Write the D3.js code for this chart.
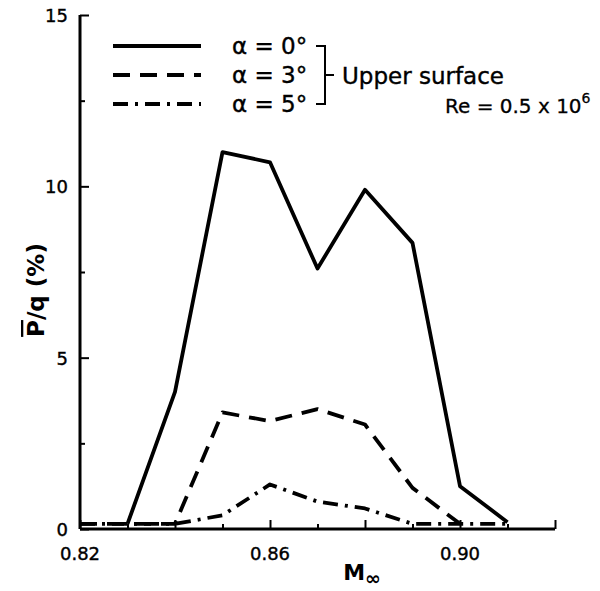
<!DOCTYPE html>
<html>
<head>
<meta charset="utf-8">
<script src="https://cdn.jsdelivr.net/npm/d3@7"></script>
<style>
  body { margin: 0; background: #fff; }
  svg text { font-family: "DejaVu Sans", sans-serif; fill: #000; }
</style>
</head>
<body>
<div id="chart"></div>
<script>
const width = 600;
const height = 591;
const margin = {top: 15, bottom: 62, left: 80, right: 45};

// Mach numbers
const mach = [0.82, 0.83, 0.84, 0.85, 0.86, 0.87, 0.88, 0.89, 0.90, 0.91];
// P/q (%), null = not drawn
const alpha0 = [null, 0.15, 4.0, 11.0, 10.7, 7.6, 9.9, 8.35, 1.25, 0.2];
const alpha3 = [0.15, 0.15, 0.15, 3.4, 3.15, 3.5, 3.05, 1.2, 0.15, null];
const alpha5 = [0.15, 0.15, 0.15, 0.4, 1.3, 0.8, 0.6, 0.15, 0.15, 0.15];
const seriesNames = ["α = 0°", "α = 3°", "α = 5°"];
const xTickLabels = [0.82, 0.86, 0.90];
const yTickLabels = [0, 5, 10, 15];

const dashes = [null, "17,10", "15,7,3,7"];

const svg = d3.select('#chart')
    .append('svg')
    .attr('width', width)
    .attr('height', height);

const x = d3.scaleLinear()
    .domain([0.82, 0.92])
    .range([margin.left, width - margin.right]);

const y = d3.scaleLinear()
    .domain([0, 15])
    .range([height - margin.bottom, margin.top]);

// axes
function xAxis(g){
    g.attr('transform', `translate(0, ${y(0)})`)
        .call(d3.axisTop(x).tickValues(d3.range(0, 11).map(i => 0.82 + i * 0.01))
            .tickSize(0).tickFormat(''));
    g.select('.domain').attr('stroke-width', 3).attr('d', `M${x(0.82)},0H${x(0.92)}`);
    g.selectAll('.tick line')
        .attr('y2', (d, i) => (i % 2 === 0 ? -9 : -5))
        .attr('stroke-width', 2);
}
function yAxis(g){
    g.attr('transform', `translate(${x(0.82)}, 0)`)
        .call(d3.axisRight(y).tickValues(d3.range(0, 15.1, 2.5)).tickSize(0).tickFormat(''));
    g.select('.domain').attr('stroke-width', 3).attr('d', `M0,${y(0)}V${y(15)}`);
    g.selectAll('.tick line')
        .attr('x2', d => (d % 5 === 0 ? 9 : 5))
        .attr('stroke-width', 2);
}
svg.append('g').call(xAxis);
svg.append('g').call(yAxis);

svg.append('g').selectAll('text')
    .data(xTickLabels)
    .enter()
    .append('text')
    .attr('x', d => x(d))
    .attr('y', y(0) + 31)
    .attr('text-anchor', 'middle')
    .attr('font-size', 18)
    .attr('stroke', '#000')
    .attr('stroke-width', 0.4)
    .text(d => d.toFixed(2));

svg.append('g').selectAll('text')
    .data(yTickLabels)
    .enter()
    .append('text')
    .attr('x', x(0.82) - 12)
    .attr('y', d => y(d) + 7)
    .attr('text-anchor', 'end')
    .attr('font-size', 18)
    .attr('stroke', '#000')
    .attr('stroke-width', 0.4)
    .text(d => d);

// axis titles
svg.append('text')
    .attr('x', 362)
    .attr('y', 580)
    .attr('text-anchor', 'middle')
    .attr('font-size', 22)
    .attr('font-weight', 'bold')
    .html('M<tspan font-size="19" dy="5">∞</tspan>');

const yl = svg.append('text')
    .attr('transform', 'translate(44, 290) rotate(-90)')
    .attr('text-anchor', 'middle')
    .attr('font-size', 23)
    .attr('font-weight', 'bold');
yl.append('tspan').attr('text-decoration', 'overline').text('P');
yl.append('tspan').text('/q (%)');

// curves
const line = d3.line()
    .defined(d => d[1] !== null)
    .x(d => x(d[0]))
    .y(d => y(d[1]));

[alpha0, alpha3, alpha5].forEach((vals, i) => {
    svg.append('path')
        .datum(mach.map((m, j) => [m, vals[j]]))
        .attr('fill', 'none')
        .attr('stroke', '#000')
        .attr('stroke-width', 3.8)
        .attr('stroke-linejoin', 'round')
        .attr('stroke-dasharray', dashes[i])
        .attr('d', line);
});

// legend
const legend = svg.append('g');
seriesNames.forEach((name, i) => {
    const ly = 46 + i * 29;
    legend.append('line')
        .attr('x1', 113).attr('x2', 201)
        .attr('y1', ly).attr('y2', ly)
        .attr('stroke', '#000')
        .attr('stroke-width', 3.8)
        .attr('stroke-dasharray', dashes[i]);
    legend.append('text')
        .attr('x', 232)
        .attr('y', ly + 8)
        .attr('font-size', 23)
        .attr('stroke', '#000')
        .attr('stroke-width', 0.4)
        .text(name);
});
legend.append('path')
    .attr('d', 'M316,46H325V104H316M325,75H334')
    .attr('fill', 'none')
    .attr('stroke', '#000')
    .attr('stroke-width', 2);
legend.append('text')
    .attr('x', 342)
    .attr('y', 84)
    .attr('font-size', 23)
    .attr('stroke', '#000')
    .attr('stroke-width', 0.4)
    .text('Upper surface');
legend.append('text')
    .attr('x', 445)
    .attr('y', 113)
    .attr('font-size', 20)
    .attr('stroke', '#000')
    .attr('stroke-width', 0.3)
    .html('Re = 0.5 x 10<tspan font-size="14" dy="-10">6</tspan>');
</script>
</body>
</html>
